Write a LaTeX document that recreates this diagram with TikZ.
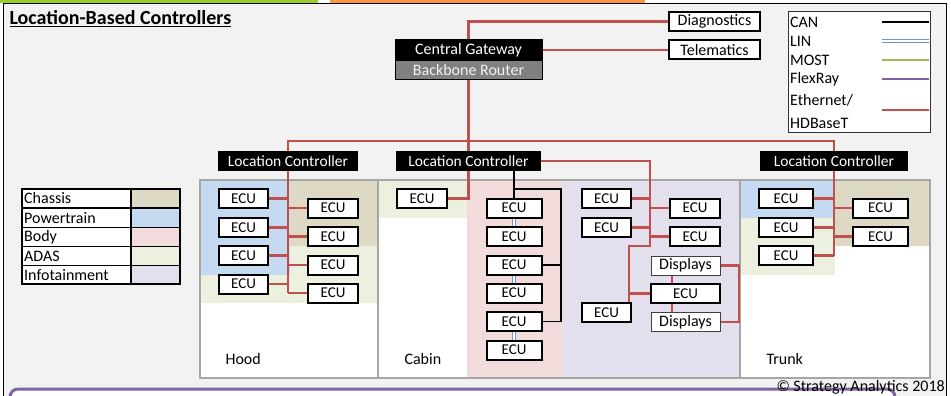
\documentclass[tikz,border=0pt]{standalone}
\usepackage{fontspec}
\setmainfont{Carlito}
\usepackage{xcolor}
\usetikzlibrary{positioning}

\definecolor{ethred}{HTML}{C0504D}
\definecolor{linblue}{HTML}{7393C3}
\definecolor{mostgreen}{HTML}{9BBB59}
\definecolor{flexpurple}{HTML}{8064A2}
\definecolor{chassis}{HTML}{DDD9C4}
\definecolor{powertrain}{HTML}{C5D9F1}
\definecolor{bodypink}{HTML}{F2DCDB}
\definecolor{adas}{HTML}{EBF1DE}
\definecolor{infotain}{HTML}{E4DFEC}
\definecolor{slide}{HTML}{F2F2F2}
\definecolor{topgreen}{HTML}{9ACD32}
\definecolor{toporange}{HTML}{F79646}
\definecolor{zonegray}{HTML}{A6A6A6}
\newcommand\setfs[1]{\fontsize{#1}{#1}\selectfont}

\tikzset{
  ecu/.style={draw, line width=2pt, fill=white, minimum height=19pt, inner sep=0pt, font=\setfs{15}},
  disp/.style={draw=black!75, line width=1pt, fill=white, minimum width=69pt, minimum height=19pt, inner sep=0pt},
  lcbox/.style={fill=black, text=white, minimum height=20pt, inner sep=0pt, font=\setfs{15.5}},
  extbox/.style={draw, line width=2pt, fill=white, minimum width=91pt, minimum height=19pt, inner sep=0pt},
  ethlink/.style={ethred, line width=2.5pt},
  canlink/.style={black, line width=1.5pt},
  linlink/.style={draw=linblue, double=white, double distance=1.2pt, line width=1.1pt},
  zoneline/.style={zonegray, line width=1.2pt}
}

\begin{document}
\begin{tikzpicture}[x=1pt, y=-1pt, font=\setfs{16}]
\useasboundingbox (0,0) rectangle (951,396);
\clip (0,0) rectangle (951,396);

% slide background
\fill[white] (0,0) rectangle (951,396);
\fill[topgreen] (0,0) rectangle (318,3);
\fill[toporange] (330,0) rectangle (645,3);
\draw[black, line width=1pt, fill=slide] (3.5,3.5) rectangle (946,420);
\draw[flexpurple, line width=3pt, fill=white, rounded corners=8pt] (10,389) rectangle (895,430);

\node[anchor=base west, font=\bfseries\setfs{20}] (title) at (6,25) {\underline{Location-Based Controllers}};

% zones
\fill[white] (200,180) rectangle (930,378);
\fill[powertrain] (200,180) rectangle (290,275);
\fill[chassis] (290,180) rectangle (378,246);
\fill[adas] (200,275) rectangle (290,303);
\fill[adas] (290,246) rectangle (378,303);
\fill[adas] (378,180) rectangle (467,218);
\fill[bodypink] (467,180) rectangle (563,378);
\fill[infotain] (563,180) rectangle (740,378);
\fill[powertrain] (740,180) rectangle (835,218);
\fill[adas] (740,218) rectangle (835,275);
\fill[chassis] (835,180) rectangle (930,246);
\draw[zoneline] (200,180) rectangle (930,378);
\draw[zoneline] (378,180) -- (378,378);
\draw[zoneline] (740,180) -- (740,378);
\node[anchor=base west] (hood) at (222,364) {Hood};
\node[anchor=base west] (cabin) at (401,364) {Cabin};
\node[anchor=base west] (trunk) at (763,364) {Trunk};

% domain colours
\fill[white] (22,189) rectangle (180,284);
\fill[chassis] (131,189) rectangle (180,208);
\fill[powertrain] (131,208) rectangle (180,227.5);
\fill[bodypink] (131,227.5) rectangle (180,246.5);
\fill[adas] (131,246.5) rectangle (180,265.5);
\fill[infotain] (131,265.5) rectangle (180,284);
\draw[line width=1.2pt] (22,189) rectangle (180,284);
\draw[line width=1.2pt] (131,189) -- (131,284);
\draw[line width=1.2pt] (22,208) -- (180,208);
\draw[line width=1.2pt] (22,227.5) -- (180,227.5);
\draw[line width=1.2pt] (22,246.5) -- (180,246.5);
\draw[line width=1.2pt] (22,265.5) -- (180,265.5);
\node[anchor=west, inner sep=1pt] at (23,198.5) {Chassis};
\node[anchor=west, inner sep=1pt] at (23,218) {Powertrain};
\node[anchor=west, inner sep=1pt] at (23,237) {Body};
\node[anchor=west, inner sep=1pt] at (23,256) {ADAS};
\node[anchor=west, inner sep=1pt] at (23,275) {Infotainment};

% bus types
\draw[black!80, line width=1pt, fill=white] (788,12) rectangle (930,132);
\node[anchor=west, inner sep=1pt] at (789,22) {CAN};
\node[anchor=west, inner sep=1pt] at (789,41) {LIN};
\node[anchor=west, inner sep=1pt] at (789,60) {MOST};
\node[anchor=west, inner sep=1pt] at (789,79) {FlexRay};
\node[anchor=west, inner sep=1pt] at (789,100) {Ethernet/};
\node[anchor=west, inner sep=1pt] at (789,123) {HDBaseT};
\draw[canlink] (882,22) -- (929,22);
\draw[linlink] (882,41) -- (929,41);
\draw[mostgreen, line width=1.5pt] (882,60) -- (929,60);
\draw[flexpurple, line width=2.5pt] (882,79) -- (929,79);
\draw[ethlink] (882,110) -- (929,110);

% gateway and external units
\node[lcbox, draw=black, line width=1pt, minimum width=147pt, font=\setfs{16}] (gw) at (468.5,50) {Central Gateway};
\node[draw=black, line width=1pt, fill=black!50, text=black!5, minimum width=147pt, minimum height=19pt, inner sep=0pt, below=0pt of gw] (router) {Backbone Router};
\node[extbox] (diag) at (714.5,21.5) {Diagnostics};
\node[extbox] (tele) at (714.5,50) {Telematics};

% location controllers
\node[lcbox, minimum width=140pt] (lcH) at (288,161) {Location Controller};
\node[lcbox, minimum width=145pt] (lcC) at (468.5,161) {Location Controller};
\node[lcbox, minimum width=148pt] (lcT) at (834,161) {Location Controller};

% hood
\node[ecu, minimum width=49pt] (h1) at (243.5,198.5) {ECU};
\node[ecu, minimum width=49pt] (h2) at (243.5,227.5) {ECU};
\node[ecu, minimum width=49pt] (h3) at (243.5,255.5) {ECU};
\node[ecu, minimum width=49pt] (h4) at (243.5,284) {ECU};
\node[ecu, minimum width=50pt] (h5) at (333,208) {ECU};
\node[ecu, minimum width=50pt] (h6) at (333,236.5) {ECU};
\node[ecu, minimum width=50pt] (h7) at (333,265) {ECU};
\node[ecu, minimum width=50pt] (h8) at (333,293) {ECU};

% cabin
\node[ecu, minimum width=50pt] (c1) at (422,198.5) {ECU};
\node[ecu, minimum width=55pt] (b1) at (514,208) {ECU};
\node[ecu, minimum width=55pt] (b2) at (514,236.5) {ECU};
\node[ecu, minimum width=55pt] (b3) at (514,265) {ECU};
\node[ecu, minimum width=55pt] (b4) at (514,293) {ECU};
\node[ecu, minimum width=55pt] (b5) at (514,321.5) {ECU};
\node[ecu, minimum width=55pt] (b6) at (514,350) {ECU};
\node[ecu, minimum width=49pt] (i1) at (606.5,198.5) {ECU};
\node[ecu, minimum width=49pt] (i2) at (606.5,227.5) {ECU};
\node[ecu, minimum width=50pt] (i3) at (695,208) {ECU};
\node[ecu, minimum width=50pt] (i4) at (695,236.5) {ECU};
\node[disp] (d1) at (685.5,265.5) {Displays};
\node[ecu, minimum width=69pt] (i5) at (685.5,293.5) {ECU};
\node[disp] (d2) at (685.5,322) {Displays};
\node[ecu, minimum width=49pt] (i6) at (606.5,312.5) {ECU};

% trunk
\node[ecu, minimum width=54pt] (t1) at (786,198.5) {ECU};
\node[ecu, minimum width=54pt] (t2) at (786,227.5) {ECU};
\node[ecu, minimum width=54pt] (t3) at (786,255.5) {ECU};
\node[ecu, minimum width=55pt] (t4) at (880.5,208) {ECU};
\node[ecu, minimum width=55pt] (t5) at (880.5,236.5) {ECU};

% backbone
\coordinate (bus) at (0,141);
\draw[ethlink] (gw.north) |- (diag.west);
\draw[ethlink] (gw.east) -- (tele.west);
\draw[ethlink] (router.south) -- (lcC.north);
\draw[ethlink] (lcH.north) -- (lcH.north |- bus) -- (lcT.north |- bus) -- (lcT.north);

% hood links
\draw[ethlink] (lcH.south) -- (lcH.south |- h8.west);
\draw[ethlink] (h1.east) -- (h1.east -| lcH.south);
\draw[ethlink] (h2.east) -- (h2.east -| lcH.south);
\draw[ethlink] (h3.east) -- (h3.east -| lcH.south);
\draw[ethlink] (h4.east) -- (h4.east -| lcH.south);
\draw[ethlink] (h5.west) -- (h5.west -| lcH.south);
\draw[ethlink] (h6.west) -- (h6.west -| lcH.south);
\draw[ethlink] (h7.west) -- (h7.west -| lcH.south);
\draw[ethlink] (h8.west) -- (h8.west -| lcH.south);

% cabin links
\draw[ethlink] (lcC.south) |- (c1.east);
\coordinate (canr) at (561,189);
\draw[canlink] (lcC.south -| b1.north) -- (b1.north);
\draw[canlink] (b1.north |- canr) -- (canr) -- (canr |- b5.east) -- (b5.east);
\draw[canlink] (b3.east) -- (b3.east -| canr);
\draw[linlink] (b1.south) -- (b2.north);
\draw[linlink] (b3.south) -- (b4.north);
\draw[linlink] (b5.south) -- (b6.north);
\coordinate (ibus) at (650,246);
\coordinate (iturn) at (629,246);
\draw[ethlink] (lcC.east) -| (ibus) -- (iturn) -- (iturn |- i6.north);
\draw[ethlink] (i1.east) -- (i1.east -| ibus);
\draw[ethlink] (i2.east) -- (i2.east -| ibus);
\draw[ethlink] (i3.west) -- (i3.west -| ibus);
\draw[ethlink] (i4.west) -- (i4.west -| ibus);
\draw[ethlink] (i5.west) -- (i5.west -| iturn);
\coordinate (dloop) at (739,0);
\draw[ethlink] (d1.east) -- (d1.east -| dloop) -- (dloop |- d2.east) -- (d2.east);
\draw[ethlink] ([xshift=-13.5pt]d1.south) -- ([xshift=-13.5pt]i5.north);
\draw[ethlink] ([xshift=-13.5pt]i5.south) -- ([xshift=-13.5pt]d2.north);

% trunk links
\draw[ethlink] (lcT.south) -- (lcT.south |- t3.east);
\draw[ethlink] (t1.east) -- (t1.east -| lcT.south);
\draw[ethlink] (t2.east) -- (t2.east -| lcT.south);
\draw[ethlink] (t3.east) -- (t3.east -| lcT.south);
\draw[ethlink] (t4.west) -- (t4.west -| lcT.south);
\draw[ethlink] (t5.west) -- (t5.west -| lcT.south);

\node[anchor=base east, inner sep=0pt] (copy) at (945,391.5) {© Strategy Analytics 2018};
\end{tikzpicture}
\end{document}
